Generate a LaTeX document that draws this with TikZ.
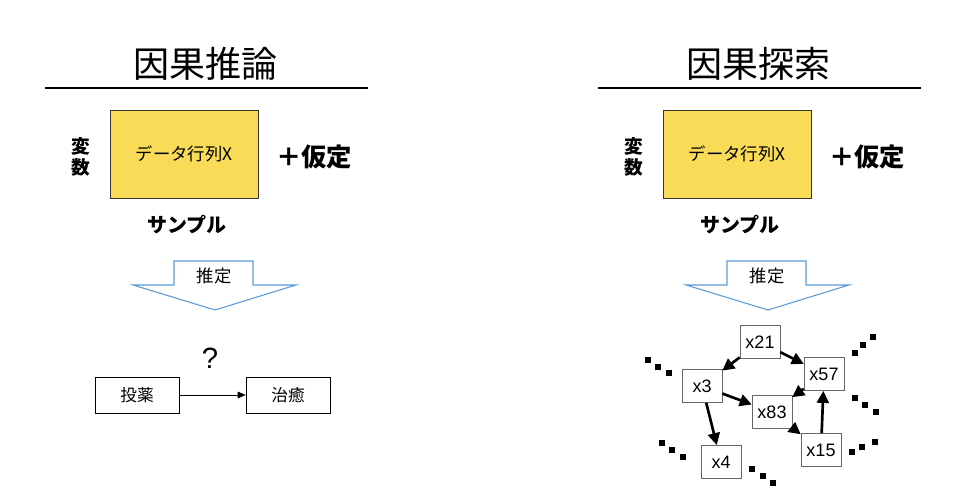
\documentclass[tikz,border=0pt]{standalone}
\usepackage{fontspec}
\setmainfont{Liberation Sans}
\newfontfamily\jp{Noto Sans CJK JP}
\usetikzlibrary{arrows.meta}
\definecolor{ybox}{HTML}{F9DB57}
\definecolor{barrow}{HTML}{5B9BD5}
\tikzset{
 every node/.style={inner sep=0pt},
 title/.style={font=\jp\fontsize{27}{30}\selectfont},
 bold/.style={font=\jp\bfseries\fontsize{15}{16}\selectfont},
 plus/.style={font=\jp\bfseries\fontsize{19}{20}\selectfont},
 databox/.style={draw=black!80,fill=ybox,minimum width=111pt,minimum height=66pt,font=\jp\fontsize{13}{14}\selectfont},
 plainbox/.style={draw,minimum width=63pt,minimum height=27pt,font=\jp\fontsize{12.5}{13}\selectfont},
 gnode/.style={draw=black!60,fill=white,minimum width=30pt,minimum height=25pt,font=\fontsize{13.5}{14}\selectfont},
 garrow/.style={line width=2pt,-{Triangle[length=9pt,width=9pt]}},
 dot/.style={fill=black,minimum size=4.3pt,shape=rectangle},
}
\begin{document}
\begin{tikzpicture}[x=0.75pt,y=-0.75pt]
\useasboundingbox (0,0) rectangle (964,498);
\foreach \ox/\ttl/\nm in {0/因果推論/L,553/因果探索/R}{
 \begin{scope}[xshift=\ox*0.75pt]
 \node[title] (t\nm) at (205,64) {\ttl};
 \draw[line width=0.8pt] (45,88) -- (368,88);
 \node[bold,align=center,font=\jp\bfseries\fontsize{14}{16}\selectfont] (v\nm) at (81,157) {変\\数};
 \node[databox] (d\nm) at (184,154) {データ行列X};
 \node[plus] (p\nm) at (314,157) {＋仮定};
 \node[bold] (s\nm) at (187,225) {サンプル};
 \draw[barrow,line width=0.8pt,fill=white] (174,261) -- (253,261) -- (253,285) -- (296,285) -- (215,310) -- (133,285) -- (174,285) -- cycle;
 \node[font=\jp\fontsize{13}{14}\selectfont] (e\nm) at (214,276) {推定};
 \end{scope}}
\node[font=\fontsize{22}{23}\selectfont] (q) at (210,358) {?};
\node[plainbox] (a) at (137,395) {投薬};
\node[plainbox] (b) at (288,395) {治癒};
\draw[-{Triangle[length=6pt,width=5pt]}] (a) -- (b);
\node[gnode] (x21) at (760,342) {x21};
\node[gnode] (x3) at (702,386) {x3};
\node[gnode] (x57) at (824,374) {x57};
\node[gnode] (x83) at (772,412) {x83};
\node[gnode] (x15) at (821,450) {x15};
\node[gnode] (x4) at (721,462) {x4};
\draw[garrow] (x21) -- (x3);
\draw[garrow] (x21) -- (x57);
\draw[garrow] (x3) -- (x83);
\draw[garrow] (x3) -- (x4);
\draw[garrow] (x57) -- (x83);
\draw[garrow] (x83) -- (x15);
\draw[garrow] (x15) -- (x57);
\foreach \i/\a/\b/\c/\d/\e/\f in {1/648/360/658/367/669/373, 2/855/353/863/345/873/337, 3/855/398/865/405/876/412, 4/852/452/862/447/875/442, 5/662/443/672/450/683/457, 6/752/469/763/476/773/483}{
 \node[dot] (da\i) at (\a,\b) {};
 \node[dot] (db\i) at (\c,\d) {};
 \node[dot] (dc\i) at (\e,\f) {};
}
\end{tikzpicture}
\end{document}
